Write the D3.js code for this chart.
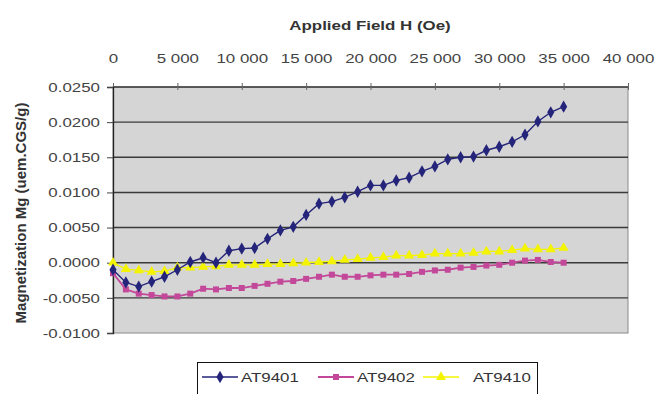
<!DOCTYPE html>
<html>
<head>
<meta charset="utf-8">
<script src="https://cdn.jsdelivr.net/npm/d3@7"></script>
<style>
body { margin: 0; background: #fff; }
text { font-family: "Liberation Sans", Arial, sans-serif; }
</style>
</head>
<body>
<script>
// data
var field = [0, 1000, 2000, 3000, 4000, 5000, 6000, 7000, 8000, 9000,
             10000, 11000, 12000, 13000, 14000, 15000, 16000, 17000, 18000, 19000,
             20000, 21000, 22000, 23000, 24000, 25000, 26000, 27000, 28000, 29000,
             30000, 31000, 32000, 33000, 34000, 35000];

var at9401 = [-0.0010, -0.0028, -0.0034, -0.0027, -0.0020, -0.0010, 0.0001, 0.0007, 0.0000, 0.0017,
              0.0020, 0.0021, 0.0034, 0.0046, 0.0051, 0.0068, 0.0084, 0.0087, 0.0093, 0.0101,
              0.0110, 0.0110, 0.0117, 0.0121, 0.0130, 0.0137, 0.0147, 0.0150, 0.0151, 0.0160,
              0.0165, 0.0172, 0.0182, 0.0201, 0.0214, 0.0222];

var at9402 = [-0.0015, -0.0038, -0.0044, -0.0046, -0.0048, -0.0048, -0.0044, -0.0037, -0.0038, -0.0036,
              -0.0036, -0.0033, -0.0030, -0.0027, -0.0026, -0.0023, -0.0020, -0.0017, -0.0020, -0.0020,
              -0.0018, -0.0017, -0.0017, -0.0016, -0.0013, -0.0011, -0.0010, -0.0007, -0.0006, -0.0004,
              -0.0003, 0.0000, 0.0003, 0.0004, 0.0001, 0.0000];

var at9410 = [0.0000, -0.0009, -0.0011, -0.0013, -0.0012, -0.0007, -0.0007, -0.0006, -0.0005, -0.0003,
              -0.0003, -0.0003, -0.0002, -0.0002, -0.0001, 0.0000, 0.0001, 0.0002, 0.0004, 0.0005,
              0.0007, 0.0008, 0.0010, 0.0010, 0.0011, 0.0013, 0.0013, 0.0013, 0.0014, 0.0016,
              0.0016, 0.0018, 0.0020, 0.0019, 0.0019, 0.0021];

var seriesNames = ["AT9401", "AT9402", "AT9410"];
var xTicks = [0, 5000, 10000, 15000, 20000, 25000, 30000, 35000, 40000];
var yTicks = [-0.0100, -0.0050, 0.0000, 0.0050, 0.0100, 0.0150, 0.0200, 0.0250];

//positioning/sizing
var svg_dx = 659, svg_dy = 394,
    plot = {left: 113, right: 628, top: 87, bottom: 333},
    stretch = 1.3;   // horizontal text looks wide in the picture

var x = d3.scaleLinear().domain([0, 40000]).range([plot.left, plot.right]),
    y = d3.scaleLinear().domain([-0.01, 0.025]).range([plot.bottom, plot.top]);

var loc = d3.formatLocale({decimal: ".", thousands: " ", grouping: [3], currency: ["", ""], minus: "-"});

var svg = d3.select("body").append("svg")
    .attr("width", svg_dx)
    .attr("height", svg_dy);

// plot area
svg.append("rect")
   .attr("x", plot.left).attr("y", plot.top)
   .attr("width", plot.right - plot.left).attr("height", plot.bottom - plot.top)
   .attr("fill", "#d5d5d5")
   .attr("stroke", "#8a8a8a");

// gridlines
svg.append("g")
   .selectAll("line")
   .data(yTicks.filter(d => d > -0.01))
   .enter().append("line")
   .attr("x1", plot.left).attr("x2", plot.right)
   .attr("y1", d => y(d)).attr("y2", d => y(d))
   .attr("stroke", "#3a3a3a")
   .attr("stroke-width", 1.4);

// axes
var axis_x = d3.axisTop(x).tickValues(xTicks).tickSize(4).tickFormat(loc.format(",d"));
var axis_y = d3.axisLeft(y).tickValues(yTicks).tickSize(6).tickFormat(loc.format(".4f"));

var gx = svg.append("g")
   .attr("transform", "translate(0," + plot.top + ")")
   .call(axis_x);
gx.select(".domain").attr("stroke", "#555");
gx.selectAll(".tick line").attr("y1", -4).attr("y2", 3).attr("stroke", "#666");
gx.selectAll(".tick text")
  .attr("y", -24).attr("dy", 0)
  .attr("transform", "scale(" + stretch + ",1)")
  .attr("fill", "#444").style("font-size", "13px");

var gy = svg.append("g")
   .attr("transform", "translate(" + plot.left + ",0)")
   .call(axis_y);
gy.select(".domain").attr("stroke", "#222").attr("stroke-width", 1.3);
gy.selectAll(".tick line").attr("stroke", "#444");
gy.selectAll(".tick text")
  .attr("x", -10)
  .attr("transform", "scale(" + stretch + ",1)")
  .attr("fill", "#444").style("font-size", "13px");

// titles
svg.append("text")
   .attr("transform", "translate(370,30) scale(" + stretch + ",1)")
   .attr("text-anchor", "middle")
   .style("font-size", "13px").style("font-weight", "bold")
   .attr("fill", "#333")
   .text("Applied Field H (Oe)");

svg.append("text")
   .attr("transform", "translate(26,213) rotate(-90)")
   .attr("text-anchor", "middle")
   .style("font-size", "15px").style("font-weight", "bold")
   .attr("fill", "#333")
   .text("Magnetization Mg (uem.CGS/g)");

// series
var series = [
  {name: seriesNames[0], values: at9401, color: "#24247a", sym: d3.symbolDiamond, size: 44, width: 1.4},
  {name: seriesNames[1], values: at9402, color: "#c4489a", sym: d3.symbolSquare, size: 36, width: 1.8},
  {name: seriesNames[2], values: at9410, color: "#f4f400", sym: d3.symbolTriangle, size: 44, width: 1.3}
];

var line = d3.line()
    .x(d => x(d[0]))
    .y(d => y(d[1]));

series.slice().reverse().forEach(function(s) {
  var pts = field.map((f, i) => [f, s.values[i]]);
  svg.append("path")
     .datum(pts)
     .attr("d", line)
     .attr("fill", "none")
     .attr("stroke", s.color)
     .attr("stroke-width", s.width);
  svg.append("g")
     .selectAll("path")
     .data(pts)
     .enter().append("path")
     .attr("d", d3.symbol().type(s.sym).size(s.size))
     .attr("transform", d => "translate(" + x(d[0]) + "," + y(d[1]) + ")")
     .attr("fill", s.color);
});

// legend
var legend = svg.append("g");
legend.append("rect")
   .attr("x", 197.5).attr("y", 362.5)
   .attr("width", 340).attr("height", 40)
   .attr("fill", "#fff").attr("stroke", "#111");

var legendX = [202, 318, 423];
series.forEach(function(s, i) {
  var lx = legendX[i];
  legend.append("line")
     .attr("x1", lx).attr("x2", lx + 36)
     .attr("y1", 377).attr("y2", 377)
     .attr("stroke", s.color).attr("stroke-width", s.width);
  legend.append("path")
     .attr("d", d3.symbol().type(s.sym).size(s.size))
     .attr("transform", "translate(" + (lx + 18) + ",377)")
     .attr("fill", s.color);
  legend.append("text")
     .attr("transform", "translate(" + (lx + (i == 2 ? 50 : 39)) + ",382) scale(" + stretch + ",1)")
     .style("font-size", "13px")
     .attr("fill", "#333")
     .text(s.name);
});
</script>
</body>
</html>
